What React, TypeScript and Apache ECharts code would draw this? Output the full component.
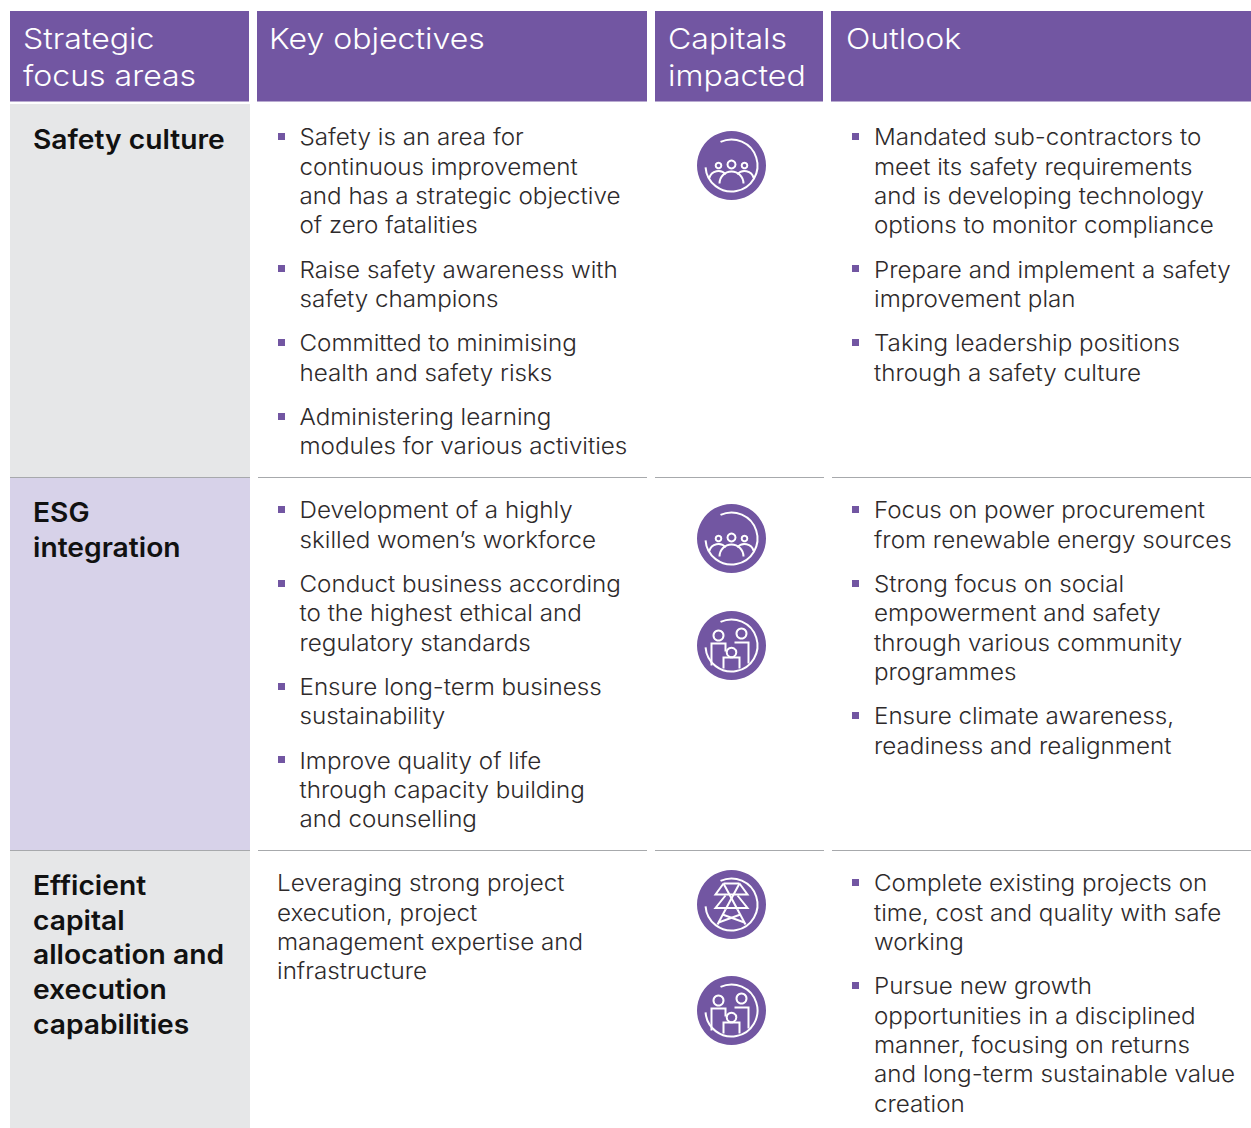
import React, { useEffect, useRef } from "react";
import * as echarts from "echarts";

const PURPLE = "#7256a2";
const headerCols = [
  { x: 10, w: 239, tx: 23, lines: ["Strategic", "focus areas"] },
  { x: 257, w: 390, tx: 269, lines: ["Key objectives"] },
  { x: 655, w: 168, tx: 668, lines: ["Capitals", "impacted"] },
  { x: 831, w: 420, tx: 846, lines: ["Outlook"] },
];
const focusSafety = ["Safety culture"];
const focusEsg = ["ESG", "integration"];
const focusCapital = ["Efficient", "capital", "allocation and", "execution", "capabilities"];

const objSafety = [
  ["Safety is an area for", "continuous improvement", "and has a strategic objective", "of zero fatalities"],
  ["Raise safety awareness with", "safety champions"],
  ["Committed to minimising", "health and safety risks"],
  ["Administering learning", "modules for various activities"],
];
const objEsg = [
  ["Development of a highly", "skilled women\u2019s workforce"],
  ["Conduct business according", "to the highest ethical and", "regulatory standards"],
  ["Ensure long-term business", "sustainability"],
  ["Improve quality of life", "through capacity building", "and counselling"],
];
const objCapital = ["Leveraging strong project", "execution, project", "management expertise and", "infrastructure"];
const outSafety = [
  ["Mandated sub-contractors to", "meet its safety requirements", "and is developing technology", "options to monitor compliance"],
  ["Prepare and implement a safety", "improvement plan"],
  ["Taking leadership positions", "through a safety culture"],
];
const outEsg = [
  ["Focus on power procurement", "from renewable energy sources"],
  ["Strong focus on social", "empowerment and safety", "through various community", "programmes"],
  ["Ensure climate awareness,", "readiness and realignment"],
];
const outCapital = [
  ["Complete existing projects on", "time, cost and quality with safe", "working"],
  ["Pursue new growth", "opportunities in a disciplined", "manner, focusing on returns", "and long-term sustainable value", "creation"],
];

const FONT = "Inter";
const BODY_SX = 1.052;
const BODY_SIZE = 23;
const LINE = 29.35;
const GAP = 15;

function bodyText(text: string, x: number, y: number) {
  return {
    type: "text", x, y, scaleX: BODY_SX,
    style: { text, fill: "#2e2a2b", font: `300 ${BODY_SIZE}px "${FONT}"`, verticalAlign: "middle" },
  };
}
function bullets(paras: string[][], tx: number, bx: number, y0: number) {
  const out: any[] = [];
  let y = y0;
  for (const p of paras) {
    out.push({ type: "rect", shape: { x: bx, y: Math.round(y - 4), width: 7, height: 7 }, style: { fill: PURPLE } });
    for (const l of p) { out.push(bodyText(l, tx, y)); y += LINE; }
    y += GAP;
  }
  return out;
}
function boldLines(lines: string[], y0: number) {
  return lines.map((text, i) => ({
    type: "text", x: 33, y: y0 + i * 34.8, scaleX: 1.045,
    style: { text, fill: "#111", font: `600 27px "${FONT}"`, verticalAlign: "middle" },
  }));
}

function icon(kind: string, cx: number, cy: number) {
  const LW = 2;
  const p = (pts: number[][]) => ({ type: "polyline", shape: { points: pts.map(([a, b]) => [cx + a, cy + b]) }, style: { stroke: "#fff", lineWidth: LW, fill: null } });
  const c = (a: number, b: number, r: number) => ({ type: "circle", shape: { cx: cx + a, cy: cy + b, r }, style: { stroke: "#fff", lineWidth: LW, fill: PURPLE } });
  const arc = (a: number, b: number, r: number, s: number, e: number) => ({ type: "arc", shape: { cx: cx + a, cy: cy + b, r, startAngle: s * Math.PI / 180, endAngle: e * Math.PI / 180, clockwise: true }, style: { stroke: "#fff", lineWidth: LW, fill: null } });
  const els: any[] = [
    { type: "circle", shape: { cx, cy, r: 34.5 }, style: { fill: PURPLE } },
    arc(0, 0, 26, -115, 176),
  ];
  if (kind === "people") {
    els.push(c(-13, 0, 2.8), c(0, -1, 4), c(13, 0, 2.8));
    els.push(arc(-13, 15, 9.5, 195, 320), arc(13, 15, 9.5, 220, 345), arc(0, 18, 12, 180, 360));
  } else if (kind === "family") {
    els.push(c(-13, -10, 5), c(10, -12, 5), c(0, 7, 4.8));
    els.push(p([[-20, 20], [-20, -2], [-6, -2], [-6, 6]]), p([[3, -3], [17, -3], [17, 18]]));
    els.push(p([[-8, 23], [-8, 12], [8, 12], [8, 23]]));
  } else {
    els.push(
      p([[-8, -21], [8, -21]]),
      p([[-8, -21], [-16, -10], [16, -10], [8, -21]]),
      p([[-8, -21], [6, 5]]), p([[8, -21], [-6, 5]]),
      p([[-6, -9], [-16, 3.5], [16, 3.5], [6, -9]]),
      p([[-6, 5], [-14, 20]]), p([[6, 5], [14, 20]]),
      p([[-13, 18], [9, 10]]), p([[13, 18], [-9, 10]]),
    );
  }
  return els;
}

export default function App() {
  const ref = useRef<HTMLDivElement>(null);
  useEffect(() => {
    document.body.style.margin = "0";
    const chart = echarts.init(ref.current!, null, { renderer: "svg" });
    const elements: any[] = [];
    const rect = (x: number, y: number, width: number, height: number, fill: string) => elements.push({ type: "rect", shape: { x, y, width, height }, style: { fill } });
    for (const h of headerCols) {
      rect(h.x, 11, h.w, 90.5, PURPLE);
      h.lines.forEach((text, i) => elements.push({ type: "text", x: h.tx, y: 38 + i * 37, scaleX: 1.105, style: { text, fill: "#fff", font: `300 29px "${FONT}"`, verticalAlign: "middle" } }));
    }
    rect(10, 104, 240, 373, "#e6e7e8");
    rect(10, 478, 240, 372, "#d7d2e9");
    rect(10, 851, 240, 277, "#e6e7e8");
    for (const y of [477, 850]) {
      for (const [a, b] of [[10, 250], [258, 647], [655, 824], [832, 1251]]) {
        rect(a, y, b - a, 1, "#a7a9ac");
      }
    }
    elements.push(...boldLines(focusSafety, 139), ...boldLines(focusEsg, 512), ...boldLines(focusCapital, 885));
    elements.push(...bullets(objSafety, 299.5, 278, 137), ...bullets(objEsg, 299.5, 278, 510));
    objCapital.forEach((l, i) => elements.push(bodyText(l, 277, 883 + i * LINE)));
    elements.push(...bullets(outSafety, 874, 852, 137), ...bullets(outEsg, 874, 852, 510), ...bullets(outCapital, 874, 852, 883));
    elements.push(...icon("people", 731.5, 165.5), ...icon("people", 731.5, 538.5), ...icon("family", 731.5, 645.5), ...icon("tower", 731.5, 904.5), ...icon("family", 731.5, 1010.5));
    chart.setOption({ animation: false, backgroundColor: "#fff", graphic: { elements } });
    return () => chart.dispose();
  }, []);
  return <div ref={ref} style={{ width: 1251, height: 1128 }} />;
}
